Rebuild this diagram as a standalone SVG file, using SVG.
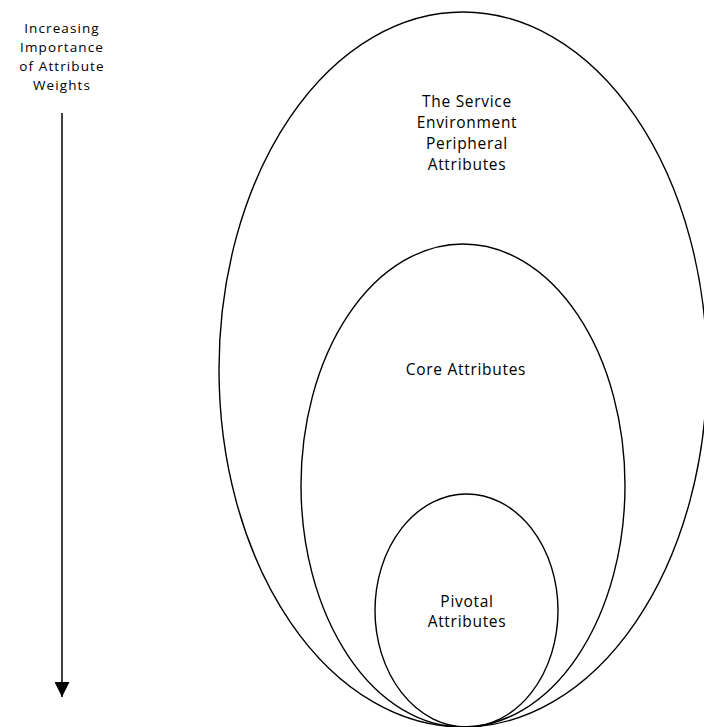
<svg xmlns="http://www.w3.org/2000/svg" width="704" height="727" viewBox="0 0 704 727">
<style>
.lbl{font-family:"Open Sans","DejaVu Sans",sans-serif;font-size:15.5px;letter-spacing:0.7px;fill:#000;text-anchor:middle}
.leg{font-family:"Open Sans","DejaVu Sans",sans-serif;font-size:13.5px;letter-spacing:1.1px;fill:#000;text-anchor:middle}
.ring{fill:none;stroke:#000;stroke-width:1.4}
</style>
<defs>
<marker id="ah" viewBox="0 0 10 10" refX="10" refY="5" markerWidth="15" markerHeight="15" markerUnits="userSpaceOnUse" orient="auto">
<path d="M0,0 L10,5 L0,10 Z" fill="#000"/>
</marker>
</defs>
<rect width="704" height="727" fill="#fff"/>
<g id="outer">
<ellipse class="ring" cx="463" cy="369.5" rx="244" ry="357.5"/>
<text class="lbl" x="467" y="107">The Service</text>
<text class="lbl" x="467" y="128">Environment</text>
<text class="lbl" x="467" y="149">Peripheral</text>
<text class="lbl" x="467" y="170">Attributes</text>
</g>
<g id="core">
<ellipse class="ring" cx="463" cy="485.5" rx="162" ry="241.5"/>
<text class="lbl" x="466" y="375">Core Attributes</text>
</g>
<g id="pivotal">
<ellipse class="ring" cx="466.5" cy="610.5" rx="91.5" ry="116.5"/>
<text class="lbl" x="467" y="607">Pivotal</text>
<text class="lbl" x="467" y="627">Attributes</text>
</g>
<g id="legend">
<text class="leg" x="62" y="33">Increasing</text>
<text class="leg" x="62" y="52">Importance</text>
<text class="leg" x="62" y="71">of Attribute</text>
<text class="leg" x="62" y="90">Weights</text>
</g>
<g id="connectors">
<line x1="62" y1="113" x2="62" y2="697" stroke="#000" stroke-width="1.5" marker-end="url(#ah)"/>
</g>
</svg>
